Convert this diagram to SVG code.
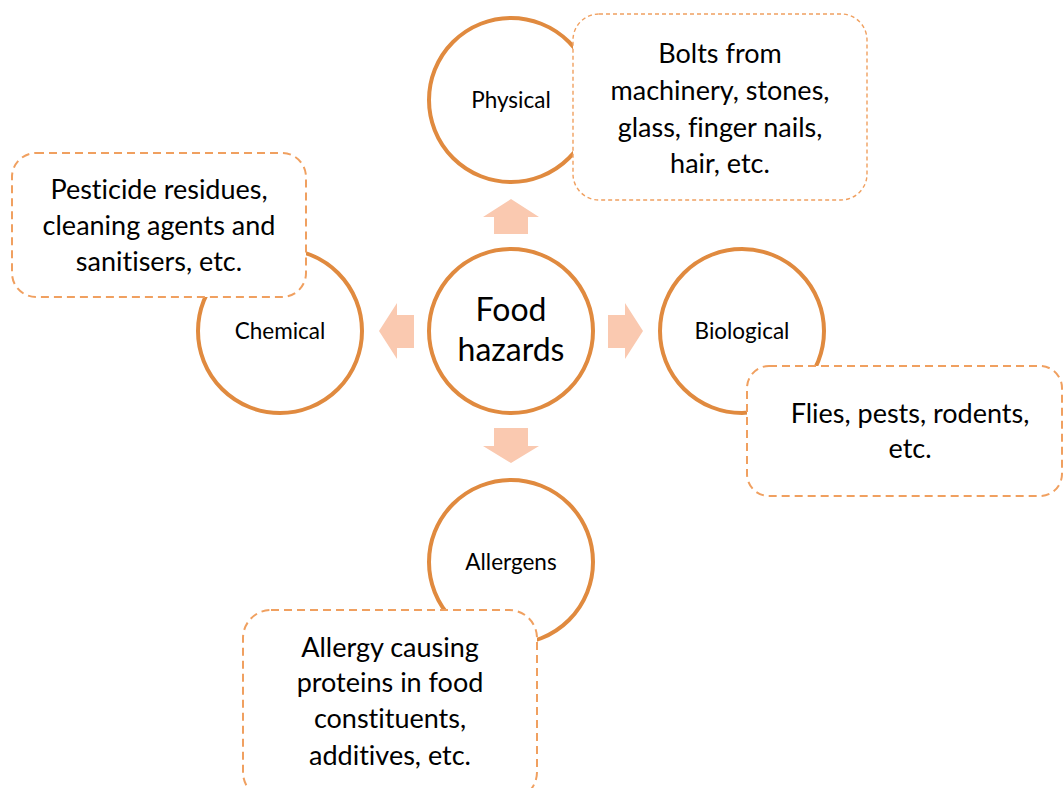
<svg xmlns="http://www.w3.org/2000/svg" width="1063" height="788" viewBox="0 0 1063 788">
<style>
.c{fill:#fff;stroke:#E08A3F;stroke-width:4}
.b{fill:#fff;stroke:#F0A060;stroke-width:2;stroke-dasharray:8 5}
.bt{fill:#fff;stroke:#F0A060;stroke-width:1.4;stroke-dasharray:4 3}
.a{fill:#FAC9B0}
text{font-family:Lato,"Open Sans","Liberation Sans",sans-serif;fill:#000;text-anchor:middle;font-variant-ligatures:none}
.l{font-size:22.5px}
.t{font-size:27px}
.h{font-size:32px}
</style>
<rect width="1063" height="788" fill="#fff"/>
<g id="connectors">
<polygon class="a" points="511,199 539,217 528,217 528,234 494,234 494,217 483,217"/>
<polygon class="a" points="379,331 397,303 397,315 414,315 414,348 397,348 397,359"/>
<polygon class="a" points="643,331 625,303 625,315 608,315 608,348 625,348 625,359"/>
<polygon class="a" points="511,463 539,446 528,446 528,428 494,428 494,446 483,446"/>
</g>
<g id="food-hazards">
<circle class="c" cx="511" cy="331" r="82"/>
<text class="h" x="511" y="321">Food</text>
<text class="h" x="511" y="361">hazards</text>
</g>
<g id="physical">
<circle class="c" cx="511" cy="100" r="82"/>
<text class="l" x="511" y="108">Physical</text>
</g>
<g id="physical-box">
<rect class="bt" x="573" y="14" width="294" height="186" rx="26"/>
<text class="t" x="720" y="63">Bolts from</text>
<text class="t" x="720" y="100">machinery, stones,</text>
<text class="t" x="720" y="137">glass, finger nails,</text>
<text class="t" x="720" y="173">hair, etc.</text>
</g>
<g id="chemical">
<circle class="c" cx="280" cy="331" r="82"/>
<text class="l" x="280" y="339">Chemical</text>
</g>
<g id="chemical-box">
<rect class="b" x="12" y="153" width="294" height="144" rx="24"/>
<text class="t" x="159" y="199">Pesticide residues,</text>
<text class="t" x="159" y="235">cleaning agents and</text>
<text class="t" x="159" y="271">sanitisers, etc.</text>
</g>
<g id="biological">
<circle class="c" cx="742" cy="331" r="82"/>
<text class="l" x="742" y="339">Biological</text>
</g>
<g id="biological-box">
<rect class="b" x="747" y="366" width="315" height="130" rx="22" stroke-dasharray="6 4"/>
<text class="t" x="910" y="423">Flies, pests, rodents,</text>
<text class="t" x="910" y="458">etc.</text>
</g>
<g id="allergens">
<circle class="c" cx="511" cy="562" r="82"/>
<text class="l" x="511" y="570">Allergens</text>
</g>
<g id="allergens-box">
<rect class="b" x="243" y="610" width="294" height="190" rx="28"/>
<text class="t" x="390" y="657">Allergy causing</text>
<text class="t" x="390" y="692">proteins in food</text>
<text class="t" x="390" y="728">constituents,</text>
<text class="t" x="390" y="765">additives, etc.</text>
</g>
</svg>
